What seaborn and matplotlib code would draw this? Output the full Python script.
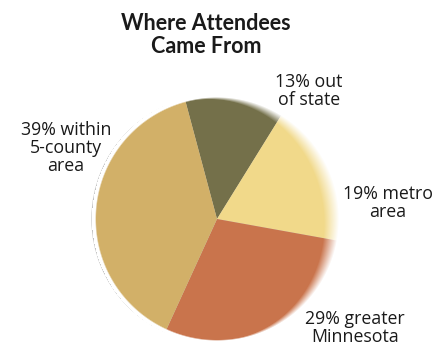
import numpy as np
import matplotlib
matplotlib.use("Agg")
import matplotlib.pyplot as plt
import seaborn as sns

# ---- data ----
categories = ["out of state", "metro area", "greater Minnesota", "within 5-county area"]
shares = [13, 19, 29, 39]
label_texts = ["13% out\nof state", "19% metro\narea", "29% greater\nMinnesota", "39% within\n5-county\narea"]
slice_colors = ["#74704a", "#f1d98a", "#c9744c", "#d2b068"]
title_text = "Where Attendees\nCame From"

# ---- layout ----
W, H = 441, 348
cx, cy_top, R = 217, 219, 122
cy = H - cy_top
label_pos = [(309, 91), (388, 203), (355, 328), (66, 148)]  # pixel coords from top

sns.set_theme(style="white")
plt.rcParams["font.family"] = ["Open Sans", "DejaVu Sans"]

fig = plt.figure(figsize=(W / 100, H / 100), dpi=100)
ax = fig.add_axes([0, 0, 1, 1])

# faint shadow on the left
shadow = plt.Circle((cx - 2, cy), R + 1, color="#9a9a9a", alpha=0.5, zorder=1)
ax.add_patch(shadow)

ax.pie(shares, colors=slice_colors, startangle=105, counterclock=False,
       center=(cx, cy), radius=R, frame=True,
       wedgeprops=dict(linewidth=0, zorder=2))
ax.set_xlim(0, W)
ax.set_ylim(0, H)
ax.set_aspect("equal")
ax.axis("off")

# soft white fade on the right edge
yy, xx = np.mgrid[0:H, 0:W]
X = xx + 0.5
Y = H - (yy + 0.5)
d = np.hypot(X - cx, Y - cy)
th = np.arctan2(Y - cy, X - cx)
w = 1.5 + 14 * np.clip(np.cos(th - 0.2), 0, 1) ** 1.5
alpha = np.clip((d - (R - w)) / w, 0, 1)
alpha = np.where(d > R + 3, 0, alpha)
overlay = np.ones((H, W, 4))
overlay[..., 3] = alpha
ax.imshow(overlay, extent=(0, W, 0, H), origin="upper", zorder=3, interpolation="bilinear")
ax.set_xlim(0, W)
ax.set_ylim(0, H)

ax.text(206, H - 35, title_text, ha="center", va="center", fontsize=15.5,
        fontweight="bold", linespacing=1.15, color="#1a1a1a", zorder=5,
        family=["Lato", "DejaVu Sans"])

for txt, (px, py) in zip(label_texts, label_pos):
    ax.text(px, H - py, txt, ha="center", va="center", fontsize=12.8,
            linespacing=1.02, color="#1a1a1a", zorder=5)

fig.savefig("out.png", dpi=100, facecolor="white")
